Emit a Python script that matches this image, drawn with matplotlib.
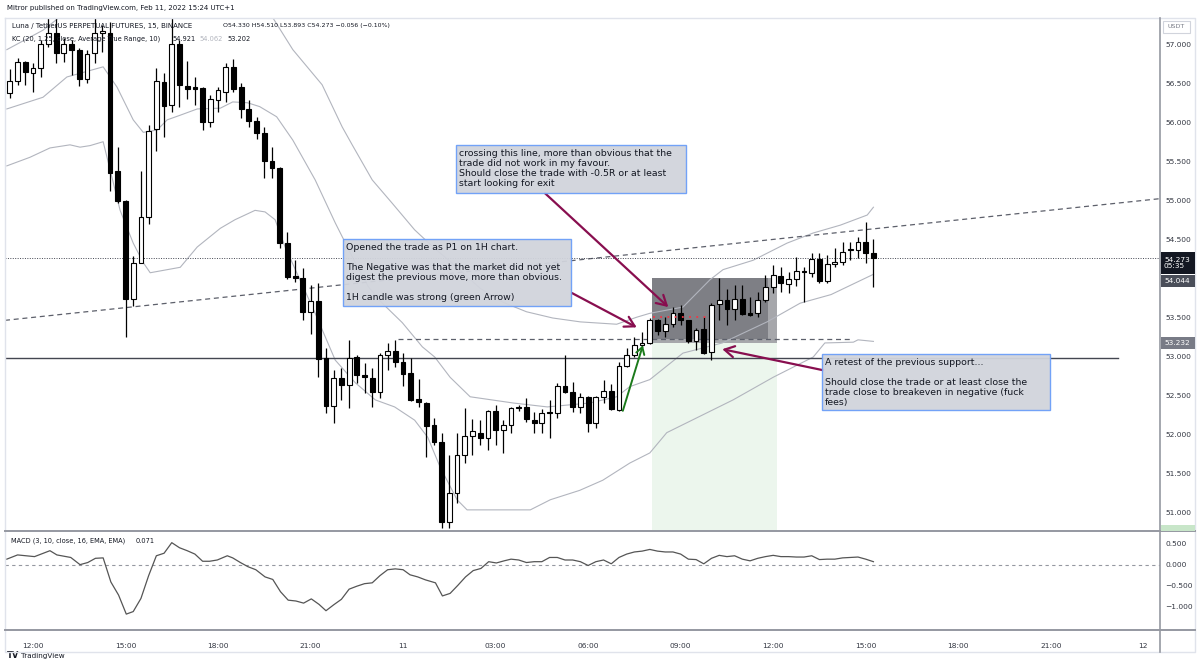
import numpy as np
import matplotlib
matplotlib.use("Agg")
import matplotlib.pyplot as plt
from matplotlib.patches import Rectangle
from matplotlib.lines import Line2D

W, H, DPI = 1200, 666, 100

# 15-minute bars, index 0 = Feb 10 12:00 (UTC+1), last bar = Feb 11 15:15
bar_idx = list(range(-3, 110))
opens = [56.39, 56.54, 56.78, 56.64, 56.70, 57.01, 57.16, 56.90, 57.01, 56.94,
         56.57, 56.90, 57.16, 57.16, 55.38, 55.00, 53.74, 54.21, 54.80, 55.92,
         56.53, 56.23, 57.01, 56.47, 56.45, 56.45, 56.01, 56.29, 56.40, 56.72,
         56.46, 56.18, 56.03, 55.87, 55.51, 55.42, 54.46, 54.04, 54.01, 53.58,
         53.72, 52.99, 52.37, 52.73, 52.64, 53.00, 52.77, 52.73, 52.55, 53.03,
         53.08, 52.94, 52.79, 52.46, 52.41, 52.13, 51.91, 50.88, 51.26, 51.74,
         51.99, 52.03, 51.96, 52.31, 52.06, 52.13, 52.36, 52.36, 52.19, 52.15,
         52.29, 52.28, 52.63, 52.55, 52.36, 52.49, 52.15, 52.49, 52.56, 52.32,
         52.88, 53.03, 53.15, 53.18, 53.47, 53.33, 53.42, 53.56, 53.47, 53.21,
         53.36, 53.06, 53.68, 53.73, 53.62, 53.74, 53.56, 53.56, 53.73, 53.90,
         54.04, 53.94, 54.00, 54.10, 54.08, 54.26, 53.97, 54.19, 54.22, 54.37,
         54.37, 54.47, 54.33]
highs = [56.69, 56.83, 56.79, 56.77, 57.06, 57.35, 57.36, 57.09, 57.06, 56.96,
         56.93, 57.35, 57.26, 57.29, 55.69, 55.01, 54.29, 55.38, 55.98, 56.71,
         56.64, 57.35, 57.06, 56.79, 56.59, 56.46, 56.36, 56.46, 56.77, 56.82,
         56.51, 56.29, 56.08, 55.95, 55.69, 55.44, 54.60, 54.24, 54.14, 53.92,
         53.95, 53.12, 52.83, 52.86, 53.22, 53.03, 52.92, 52.86, 53.05, 53.18,
         53.22, 53.05, 52.99, 52.72, 52.42, 52.22, 52.03, 51.74, 52.03, 52.35,
         52.21, 52.19, 52.32, 52.38, 52.19, 52.36, 52.38, 52.47, 52.29, 52.33,
         52.45, 52.67, 53.03, 52.68, 52.54, 52.50, 52.50, 52.71, 52.65, 52.94,
         53.12, 53.26, 53.32, 53.50, 53.49, 53.51, 53.64, 53.67, 53.48, 53.37,
         53.51, 53.69, 54.01, 53.87, 53.92, 53.92, 53.77, 53.83, 54.05, 54.18,
         54.15, 54.09, 54.28, 54.15, 54.33, 54.33, 54.31, 54.40, 54.47, 54.47,
         54.54, 54.73, 54.51]
lows = [56.32, 56.49, 56.49, 56.40, 56.59, 56.97, 56.77, 56.78, 56.62, 56.47,
        56.51, 56.77, 56.91, 55.13, 54.97, 53.26, 53.65, 54.20, 54.71, 55.64,
        55.82, 56.14, 56.21, 56.31, 56.23, 55.91, 55.95, 56.14, 56.27, 56.40,
        56.06, 55.95, 55.79, 55.29, 55.29, 54.40, 54.00, 53.96, 53.47, 53.29,
        52.74, 52.28, 52.15, 52.45, 52.35, 52.67, 52.54, 52.36, 52.47, 52.83,
        52.87, 52.63, 52.44, 52.36, 51.72, 51.87, 50.81, 50.81, 51.13, 51.64,
        51.74, 51.87, 51.81, 51.87, 51.77, 52.03, 52.31, 52.17, 52.03, 52.03,
        51.96, 52.22, 52.54, 52.29, 52.28, 52.04, 52.09, 52.41, 52.32, 52.31,
        52.87, 53.00, 53.13, 53.17, 53.28, 53.26, 53.38, 53.41, 53.18, 53.09,
        53.04, 52.96, 53.47, 53.41, 53.47, 53.54, 53.53, 53.51, 53.71, 53.82,
        53.83, 53.82, 53.91, 53.71, 54.03, 53.95, 53.95, 54.15, 54.18, 54.24,
        54.27, 54.21, 53.893]
closes = [56.54, 56.78, 56.65, 56.71, 57.01, 57.15, 56.90, 57.01, 56.94, 56.57,
          56.89, 57.15, 57.17, 55.36, 55.00, 53.74, 54.21, 54.80, 55.90, 56.54,
          56.22, 57.01, 56.49, 56.44, 56.44, 56.01, 56.31, 56.42, 56.72, 56.44,
          56.18, 56.03, 55.87, 55.51, 55.42, 54.46, 54.03, 54.01, 53.58, 53.72,
          52.97, 52.37, 52.73, 52.64, 52.99, 52.77, 52.74, 52.55, 53.03, 53.08,
          52.94, 52.78, 52.45, 52.42, 52.12, 51.91, 50.88, 51.26, 51.74, 51.99,
          52.05, 51.96, 52.31, 52.06, 52.13, 52.35, 52.35, 52.21, 52.15, 52.28,
          52.28, 52.63, 52.55, 52.36, 52.49, 52.15, 52.49, 52.56, 52.33, 52.88,
          53.03, 53.15, 53.18, 53.47, 53.33, 53.42, 53.56, 53.47, 53.21, 53.35,
          53.05, 53.67, 53.73, 53.62, 53.74, 53.55, 53.54, 53.73, 53.90, 54.05,
          53.95, 54.00, 54.10, 54.09, 54.26, 53.97, 54.19, 54.22, 54.35, 54.38,
          54.47, 54.33, 54.273]

# Keltner channel lines: (bar position, price)
kc_upper_x = [-3.4, 1.3, 4.8, 9.1, 14.3, 19.1, 24.3, 28.8, 31.1, 33.7, 37.5, 40.1,
              41.4, 44.0, 46.6, 49.5, 52.0, 55.0, 58.0, 61.0, 64.0, 67.4, 71.0, 75.7,
              78.3, 80.0, 84.3, 87.8, 89.5, 93.4, 97.8, 101.2, 104.7, 108.2, 109.0]
kc_upper = [56.94, 57.19, 57.46, 57.68, 57.55, 58.05, 57.73, 57.62, 57.35, 56.94,
            56.49, 55.95, 55.72, 55.27, 54.97, 54.63, 54.40, 54.15, 53.88, 53.70,
            53.58, 53.50, 53.45, 53.42, 53.51, 53.56, 53.64, 53.99, 54.12, 54.24,
            54.46, 54.59, 54.69, 54.82, 54.92]
kc_mid_x = [-3.4, 1.3, 4.4, 9.1, 10.9, 13.0, 14.3, 16.1, 17.4, 19.1, 21.3, 24.3, 25.9,
            27.8, 29.4, 31.6, 33.7, 36.6, 39.2, 41.8, 43.5, 45.3, 47.9, 50.5, 52.1,
            54.1, 56.7, 62.3, 66.7, 72.2, 75.7, 77.4, 80.0, 84.3, 89.4, 95.2, 99.5,
            103.5, 109.0]
kc_mid = [56.18, 56.33, 56.59, 56.72, 56.46, 56.04, 55.88, 55.91, 56.04, 56.10, 56.18,
          56.19, 56.27, 56.26, 56.21, 56.08, 55.78, 55.27, 54.72, 54.21, 53.90, 53.69,
          53.44, 53.13, 53.00, 52.74, 52.49, 52.41, 52.36, 52.41, 52.49, 52.62, 52.71,
          53.05, 53.18, 53.45, 53.69, 53.80, 54.06]
kc_lower_x = [-3.4, -0.4, 2.2, 4.8, 6.1, 7.4, 9.1, 10.0, 11.3, 13.0, 14.3, 15.2, 19.1,
              21.3, 24.3, 26.2, 28.8, 30.1, 31.4, 32.7, 36.6, 39.2, 41.8, 44.4, 46.9,
              49.5, 51.2, 52.8, 55.0, 56.3, 64.5, 67.1, 70.9, 73.9, 77.4, 80.0, 82.2,
              90.8, 96.0, 101.2, 102.7, 106.4, 107.0, 109.0]
kc_lower = [55.45, 55.56, 55.68, 55.72, 55.69, 55.71, 55.76, 55.40, 54.88, 54.46, 54.21,
            54.08, 54.15, 54.41, 54.65, 54.76, 54.88, 54.86, 54.76, 54.41, 53.56, 52.96,
            52.67, 52.45, 52.36, 52.19, 51.97, 51.59, 51.17, 51.04, 51.04, 51.17, 51.29,
            51.42, 51.64, 51.77, 52.03, 52.45, 52.74, 53.00, 53.18, 53.19, 53.22, 53.20]

# MACD (3, 10, close, 16) line
macd_x = [-3.4, -2.0, 0.2, 2.2, 3.1, 4.9, 6.1, 7.1, 8.1, 9.1, 10.1, 11.1, 12.1, 13, 14,
          15, 16, 17, 18, 19, 20, 21, 22, 22.9, 23.9, 25.2, 25.9, 26.9, 27.9, 28.9,
          30.1, 31.1, 32.1, 33.1, 34.1, 35.1, 36.1, 37.1, 38, 39, 40, 41, 42, 43, 44,
          45, 46, 47, 48, 48.9, 49.9, 50.9, 52.2, 53.1, 54.1, 55.1, 56.1, 57.1, 58.1,
          59.1, 60.1, 61.1, 62, 63, 64, 65, 66, 67, 68, 69, 70, 71, 72] + list(range(73, 110))
macd_val = [0.13, 0.23, 0.19, 0.33, 0.23, 0.17, 0.0, 0.05, 0.15, 0.16, -0.41, -0.72,
            -1.17, -1.11, -0.80, -0.26, 0.21, 0.27, 0.52, 0.40, 0.33, 0.25, 0.08, 0.08,
            0.11, 0.21, 0.16, 0.05, -0.05, -0.12, -0.29, -0.35, -0.64, -0.84, -0.86,
            -0.91, -0.81, -0.94, -1.09, -0.95, -0.82, -0.58, -0.51, -0.45, -0.43, -0.26,
            -0.12, -0.10, -0.12, -0.24, -0.29, -0.36, -0.43, -0.74, -0.68, -0.49, -0.29,
            -0.14, -0.09, 0.07, 0.04, 0.09, 0.13, 0.11, 0.05, 0.07, 0.07, 0.17, 0.17,
            0.11, 0.11, 0.07, -0.02,
            0.07, 0.11, 0.02, 0.17, 0.25, 0.30, 0.32, 0.36, 0.32, 0.30, 0.30, 0.25, 0.13,
            0.12, 0.02, 0.15, 0.22, 0.19, 0.21, 0.13, 0.09, 0.15, 0.19, 0.22, 0.19, 0.19,
            0.18, 0.18, 0.21, 0.12, 0.13, 0.13, 0.16, 0.17, 0.18, 0.13, 0.07]

time_ticks = list(range(0, 145, 12))
time_labels = ["12:00", "15:00", "18:00", "21:00", "11", "03:00", "06:00",
               "09:00", "12:00", "15:00", "18:00", "21:00", "12"]
price_ticks = [51.0, 51.5, 52.0, 52.5, 53.0, 53.5, 54.5, 55.0, 55.5, 56.0, 56.5, 57.0]
macd_ticks = [0.5, 0.0, -0.5, -1.0]

# drawings on the chart (bar position, price)
trend_line = [(-3.63, 53.47), (146.17, 55.03)]
support_level = 52.99
support_end = 140.7
retest_level = (47.3, 106.4, 53.232)
entry_level = (80.4, 87.3, 53.51)
last_price = 54.273
position_box = (80.3, 96.5, 53.18, 54.01)
position_inner = (80.3, 95.3, 53.23, 54.01)
maroon_arrows = [((66.4, 55.10), (82.4, 53.64)),
                 ((69.9, 53.82), (78.3, 53.38)),
                 ((102.5, 52.83), (89.4, 53.10))]
green_arrow = ((76.5, 52.31), (79.1, 53.15))
notes = [
    ((54.86, 84.7, 55.103, 55.718),
     "crossing this line, more than obvious that the\ntrade did not work in my favour.\n"
     "Should close the trade with -0.5R or at least\nstart looking for exit"),
    ((40.2, 69.8, 53.654, 54.513),
     "Opened the trade as P1 on 1H chart.\n\nThe Negative was that the market did not yet\n"
     "digest the previous move, more than obvious.\n\n1H candle was strong (green Arrow)"),
    ((102.3, 131.9, 52.32, 53.038),
     "A retest of the previous support...\n\nShould close the trade or at least close the\n"
     "trade close to breakeven in negative (fuck\nfees)"),
]

XMIN, XMAX = -3.63, 146.17
TXT = "#131722"


def fx(px):
    return px / W


def fy(py):
    return 1 - py / H


fig = plt.figure(figsize=(W / DPI, H / DPI), dpi=DPI)
fig.patch.set_facecolor("white")

ax = fig.add_axes([fx(5), fy(530), fx(1160) - fx(5), fy(18) - fy(530)])
axm = fig.add_axes([fx(5), fy(630), fx(1160) - fx(5), fy(531) - fy(630)])
for a in (ax, axm):
    a.set_xlim(XMIN, XMAX)
    for s in a.spines.values():
        s.set_visible(False)
    a.set_facecolor("none")
ax.set_ylim(50.782, 57.346)
axm.set_ylim(-1.546, 0.796)

# ── price pane ──
x0, x1, y0, y1 = position_box
ax.add_patch(Rectangle((x0, y0), x1 - x0, y1 - y0, facecolor="#5d5f66", alpha=0.55, lw=0, zorder=1))
x0, x1, y0, y1 = position_inner
ax.add_patch(Rectangle((x0, y0), x1 - x0, y1 - y0, facecolor="#5d5f66", alpha=0.55, lw=0, zorder=1))
ax.add_patch(Rectangle((position_box[0], 50.0), position_box[1] - position_box[0],
                       position_box[2] - 50.0, facecolor="#4caf50", alpha=0.1, lw=0, zorder=1))

for xs, ys in ((kc_upper_x, kc_upper), (kc_mid_x, kc_mid), (kc_lower_x, kc_lower)):
    ax.plot(xs, ys, color="#b2b5be", lw=0.8, zorder=2)

(tx0, ty0), (tx1, ty1) = trend_line
ax.plot([tx0, tx1], [ty0, ty1], color="#5d606b", lw=0.9, dashes=(4, 3), zorder=3)
ax.plot([XMIN, support_end], [support_level, support_level], color="#434651", lw=1.0, zorder=3)
ax.plot(retest_level[:2], [retest_level[2]] * 2, color="#5d606b", lw=0.9, dashes=(4, 3), zorder=3)
ax.plot(entry_level[:2], [entry_level[2]] * 2, color="#f23645", lw=1.3, dashes=(1, 3), zorder=6)
ax.axhline(last_price, color="#434651", lw=0.7, dashes=(1, 1.5), zorder=3)

o = np.array(opens)
c = np.array(closes)
hi = np.array(highs)
lo = np.array(lows)
xb = np.array(bar_idx)
up = c >= o
body_lo = np.minimum(o, c)
body_h = np.maximum(np.abs(c - o), 0.015)
ax.vlines(xb, lo, hi, color="black", lw=0.9, zorder=4)
ax.bar(xb[up], body_h[up], bottom=body_lo[up], width=0.62, color="white",
       edgecolor="black", lw=0.8, zorder=5)
ax.bar(xb[~up], body_h[~up], bottom=body_lo[~up], width=0.62, color="black",
       edgecolor="black", lw=0.8, zorder=5)

for start, end in maroon_arrows:
    ax.annotate("", xy=end, xytext=start, zorder=7,
                arrowprops=dict(arrowstyle="->,head_length=0.7,head_width=0.4",
                                color="#880e4f", lw=1.6, shrinkA=0, shrinkB=0))
ax.annotate("", xy=green_arrow[1], xytext=green_arrow[0], zorder=7,
            arrowprops=dict(arrowstyle="->,head_length=0.5,head_width=0.3",
                            color="#1b7a1b", lw=1.4, shrinkA=0, shrinkB=0))

for (nx0, nx1, ny0, ny1), txt in notes:
    ax.add_patch(Rectangle((nx0, ny0), nx1 - nx0, ny1 - ny0, facecolor="#d1d4dc",
                           edgecolor="#6c9ef8", lw=1.0, alpha=0.95, zorder=8))
    ax.annotate(txt, xy=(nx0, ny1), xytext=(2.2, -2.6), textcoords="offset points",
                ha="left", va="top", fontsize=6.75, color=TXT, linespacing=1.16, zorder=9)

ax.set_xticks([])
ax.yaxis.tick_right()
ax.set_yticks(price_ticks)
ax.set_yticklabels([f"{p:.3f}" for p in price_ticks])
ax.tick_params(axis="y", length=0, pad=4, labelsize=5.4, labelcolor="#333742")

# ── MACD pane ──
axm.axhline(0, color="#9598a1", lw=0.8, dashes=(3, 3), zorder=1)
axm.plot(macd_x, macd_val, color="#555555", lw=0.9, zorder=2)
axm.yaxis.tick_right()
axm.set_yticks(macd_ticks)
axm.set_yticklabels(["0.500", "0.000", "\u22120.500", "\u22121.000"])
axm.tick_params(axis="y", length=0, pad=4, labelsize=5.4, labelcolor="#333742")
axm.set_xticks(time_ticks)
axm.set_xticklabels(time_labels)
axm.tick_params(axis="x", length=0, pad=9, labelsize=5.4, labelcolor="#333742")

# ── frame lines ──
frame = dict(transform=fig.transFigure, zorder=20)
fig.add_artist(Line2D([fx(5), fx(1195), fx(1195), fx(5), fx(5)],
                      [fy(18), fy(18), fy(652), fy(652), fy(18)], color="#e0e3eb", lw=1, **frame))
fig.add_artist(Line2D([fx(1160), fx(1160)], [fy(18), fy(652)], color="#9598a1", lw=1.2, **frame))
fig.add_artist(Line2D([fx(5), fx(1195)], [fy(530.5), fy(530.5)], color="#9598a1", lw=1.4, **frame))
fig.add_artist(Line2D([fx(5), fx(1195)], [fy(630), fy(630)], color="#9598a1", lw=1.4, **frame))

# price tags on the right scale
tags = [(252, 274, "#131722", "54.273\n05:35"), (275, 287, "#4a4e59", "54.044"),
        (337, 349, "#787b86", "53.232")]
for ty_top, ty_bot, col, label in tags:
    fig.add_artist(Rectangle((fx(1161), fy(ty_bot)), fx(34), (ty_bot - ty_top) / H,
                             transform=fig.transFigure, facecolor=col, lw=0, zorder=21))
    fig.text(fx(1164), fy((ty_top + ty_bot) / 2), label, fontsize=5.3, color="white",
             ha="left", va="center", linespacing=1.0, zorder=22)
fig.add_artist(Rectangle((fx(1161), fy(531)), fx(34), 6 / H, transform=fig.transFigure,
                         facecolor="#c8e6c9", lw=0, zorder=21))
fig.add_artist(Rectangle((fx(1163), fy(33)), fx(27), 12 / H, transform=fig.transFigure,
                         facecolor="white", edgecolor="#d1d4dc", lw=0.8, zorder=21))
fig.text(fx(1176.5), fy(27), "USDT", fontsize=4.6, color="#787b86", ha="center",
         va="center", zorder=22)

# ── header / legends ──
fig.text(fx(7), fy(8), "Mitror published on TradingView.com, Feb 11, 2022 15:24 UTC+1",
         fontsize=5.0, color=TXT, va="center")
fig.text(fx(12), fy(26), "Luna / TetherUS PERPETUAL FUTURES, 15, BINANCE",
         fontsize=5.0, color=TXT, va="center", zorder=10)
fig.text(fx(223), fy(26), "O54.330 H54.510 L53.893 C54.273 \u22120.056 (\u22120.10%)",
         fontsize=4.5, color=TXT, va="center", zorder=10)
fig.text(fx(12), fy(39), "KC (20, 1.25, close, Average True Range, 10)",
         fontsize=4.8, color=TXT, va="center", zorder=10)
fig.text(fx(172), fy(39), "54.921", fontsize=4.8, color=TXT, va="center", zorder=10)
fig.text(fx(199), fy(39), "54.062", fontsize=4.8, color="#b2b5be", va="center", zorder=10)
fig.text(fx(227), fy(39), "53.202", fontsize=4.8, color=TXT, va="center", zorder=10)
fig.text(fx(11), fy(541), "MACD (3, 10, close, 16, EMA, EMA)", fontsize=4.8, color=TXT,
         va="center", zorder=10)
fig.text(fx(136), fy(541), "0.071", fontsize=4.8, color=TXT, va="center", zorder=10)

fig.text(fx(7), fy(656), "TV", fontsize=6, fontweight="bold", color=TXT, va="center")
fig.text(fx(21), fy(656), "TradingView", fontsize=5.2, color=TXT, va="center")

fig.savefig("out.png", dpi=DPI, facecolor="white")
